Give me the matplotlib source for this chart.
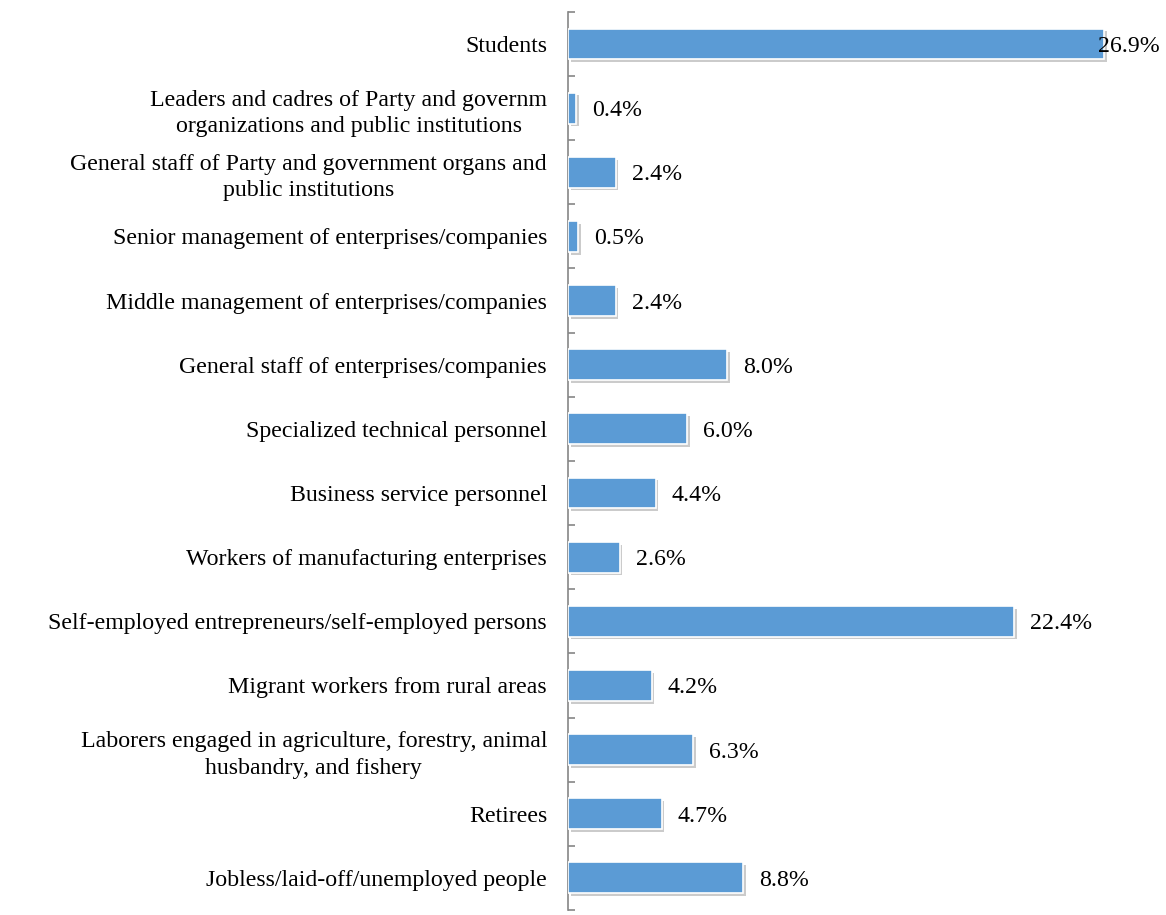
import matplotlib
matplotlib.use('Agg')
import matplotlib.pyplot as plt
import matplotlib.patheffects as pe

categories = [
    'Students',
    'Leaders and cadres of Party and governm\norganizations and public institutions',
    'General staff of Party and government organs and\npublic institutions',
    'Senior management of enterprises/companies',
    'Middle management of enterprises/companies',
    'General staff of enterprises/companies',
    'Specialized technical personnel',
    'Business service personnel',
    'Workers of manufacturing enterprises',
    'Self-employed entrepreneurs/self-employed persons',
    'Migrant workers from rural areas',
    'Laborers engaged in agriculture, forestry, animal\nhusbandry, and fishery',
    'Retirees',
    'Jobless/laid-off/unemployed people',
]
shares = [26.9, 0.4, 2.4, 0.5, 2.4, 8.0, 6.0, 4.4, 2.6, 22.4, 4.2, 6.3, 4.7, 8.8]

plt.rcParams['font.family'] = ['Liberation Serif', 'DejaVu Serif']

fig = plt.figure(figsize=(11.66, 9.15), dpi=100)
ax = fig.add_axes([0.487, 0.0055, 0.513, 0.9815])

y = range(len(categories))
bars = ax.barh(y, shares, height=0.48, color='#5B9BD5', edgecolor='white', linewidth=1.2, zorder=3)
for b in bars:
    b.set_path_effects([pe.SimplePatchShadow(offset=(2, -2), shadow_rgbFace='#999999', alpha=0.5),
                        pe.Normal()])

ax.set_xlim(0, 30)
ax.set_ylim(len(categories) - 0.5, -0.5)

# value labels, kept inside the figure for the longest bar
for i, v in enumerate(shares):
    ax.text(min(v + 0.8, 26.6), i, f'{v:.1f}%', va='center_baseline', ha='left',
            fontsize=17.2, zorder=4)

ax.set_yticks(list(y))
ax.set_yticklabels(categories, fontsize=17.2, multialignment='center', linespacing=1.35)
ax.tick_params(axis='y', length=0, pad=15)
ax.set_yticks([i + 0.5 for i in range(-1, len(categories))], minor=True)
ax.tick_params(axis='y', which='minor', length=5, direction='in', color='#868686', width=1.2)
ax.set_xticks([])

for s in ['top', 'right', 'bottom']:
    ax.spines[s].set_visible(False)
ax.spines['left'].set_color('#868686')
ax.spines['left'].set_linewidth(1.2)

plt.savefig('out.png', dpi=100)
plt.close()
